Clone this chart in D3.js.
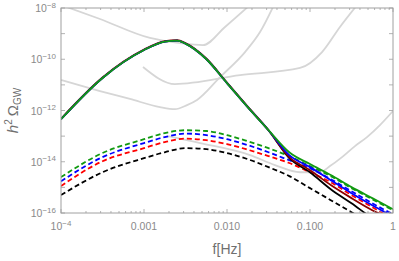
<!DOCTYPE html>
<html><head><meta charset="utf-8">
<script src="https://cdn.jsdelivr.net/npm/d3@7"></script>
<style>body{margin:0;background:#fff}svg{display:block}</style>
</head><body>
<script>
// ---- data (log10 f, log10 h^2 Omega_GW) ----
const solidF = [-4, -3.5, -3, -2.75, -2.6, -2.5, -2.25, -2, -1.75, -1.5, -1.25, -1, -0.75, -0.5, -0.25, 0];
const solidGreen = [-12.34, -10.73, -9.64, -9.31, -9.27, -9.39, -9.99, -10.93, -11.87, -12.77, -13.63, -14.09, -14.52, -14.99, -15.42, -15.85];
const solidBlue  = [-12.34, -10.73, -9.64, -9.31, -9.27, -9.39, -9.99, -10.93, -11.87, -12.77, -13.74, -14.21, -14.72, -15.23, -15.70, -16.13];
const solidRed   = [-12.32, -10.71, -9.62, -9.29, -9.25, -9.37, -9.97, -10.91, -11.85, -12.77, -13.82, -14.33, -14.91, -15.42, -15.89, -16.24];
const solidBlack = [-12.34, -10.73, -9.64, -9.31, -9.27, -9.39, -9.99, -10.93, -11.87, -12.77, -13.86, -14.41, -15.07, -15.62, -16.20, -16.67];

const dashF = [-4, -3.5, -3, -2.75, -2.5, -2.25, -2, -1.75, -1.5, -1.25, -1, -0.75, -0.5, -0.25, 0];
const dashGreen = [-14.60, -13.66, -13.12, -12.88, -12.77, -12.80, -12.96, -13.20, -13.47, -13.78, -14.17, -14.56, -15.03, -15.46, -15.89];
const dashBlue  = [-14.76, -13.82, -13.27, -13.04, -12.90, -12.96, -13.12, -13.35, -13.63, -13.94, -14.25, -14.68, -15.15, -15.62, -16.05];
const dashRed   = [-14.95, -13.98, -13.47, -13.23, -13.10, -13.16, -13.31, -13.53, -13.78, -14.05, -14.41, -14.80, -15.30, -15.77, -16.24];
const dashBlack = [-15.30, -14.41, -13.86, -13.63, -13.47, -13.51, -13.66, -13.90, -14.21, -14.56, -15.03, -15.50, -15.97, -16.44, -16.91];

// gray sensitivity curves
const sensA_F = [-4, -3.53, -2.928, -2.566, -2.289, -2.024, -1.723];
const sensA_O = [-7.88, -8.43, -9.17, -9.37, -9.45, -8.74, -7.88];
const sensB_F = [-4, -3.53, -3.169, -2.807, -2.627, -2.482, -2.361, -2.084, -1.783, -1.602, -1.422];
const sensB_O = [-10.81, -11.24, -11.55, -11.87, -11.95, -11.79, -11.59, -10.70, -9.72, -8.94, -7.80];
const sensC_F = [-3.012, -2.627, -1.843, -1.120, -0.855, -0.639, -0.422];
const sensC_O = [-10.30, -10.97, -10.62, -10.34, -9.72, -8.74, -7.84];
const sensD_F = [-2.711, -2.325, -1.723, -1.422, -1.120, -0.880, -0.759, -0.614, -0.458, -0.313, -0.157, 0];
const sensD_O = [-13.00, -13.27, -13.74, -14.13, -14.41, -14.41, -14.17, -13.82, -13.39, -13.04, -12.57, -12.02];

const xTickVals = [1e-4, 1e-3, 1e-2, 1e-1, 1];
const xTickLabels = ["10^-4", "0.001", "0.010", "0.100", "1"];
const yTickVals = [1e-8, 1e-10, 1e-12, 1e-14, 1e-16];
const yTickLabels = ["10^-8", "10^-10", "10^-12", "10^-14", "10^-16"];

// ---- drawing ----
const W = 399, H = 261;
const m = {l: 61, r: 6, t: 8, b: 48};
const svg = d3.select("body").append("svg").attr("width", W).attr("height", H);
const x = d3.scaleLog().domain([1e-4, 1]).range([m.l, W - m.r]);
const y = d3.scaleLog().domain([1e-16, 1e-8]).range([H - m.b, m.t]);

svg.append("defs").append("clipPath").attr("id", "clip")
  .append("rect").attr("x", m.l).attr("y", m.t).attr("width", W - m.r - m.l).attr("height", H - m.b - m.t);

const line = d3.line().x(d => x(Math.pow(10, d[0]))).y(d => y(Math.pow(10, d[1]))).curve(d3.curveMonotoneX);
const zip = (a, b) => a.map((v, i) => [v, b[i]]);

const g = svg.append("g").attr("clip-path", "url(#clip)");
const gray = "#d6d6d6";
[[sensA_F, sensA_O], [sensB_F, sensB_O], [sensC_F, sensC_O], [sensD_F, sensD_O]].forEach(([f, o]) => {
  g.append("path").attr("d", line(zip(f, o))).attr("fill", "none").attr("stroke", gray).attr("stroke-width", 1.8);
});

const cols = {black: "#000000", red: "#ff0000", blue: "#0000ff", green: "#119a11"};
[[dashBlack, cols.black], [dashRed, cols.red], [dashBlue, cols.blue], [dashGreen, cols.green]].forEach(([o, c]) => {
  g.append("path").attr("d", line(zip(dashF, o))).attr("fill", "none").attr("stroke", c)
    .attr("stroke-width", 1.8).attr("stroke-dasharray", "5,3");
});
[[solidBlack, cols.black], [solidRed, "#8b0000"], [solidBlue, cols.blue], [solidGreen, cols.green]].forEach(([o, c]) => {
  g.append("path").attr("d", line(zip(solidF, o))).attr("fill", "none").attr("stroke", c)
    .attr("stroke-width", 1.8);
});

// frame
const axCol = "#a0a0a0";
svg.append("rect").attr("x", m.l).attr("y", m.t).attr("width", W - m.r - m.l).attr("height", H - m.b - m.t)
  .attr("fill", "none").attr("stroke", axCol).attr("stroke-width", 1);

// ticks
const tg = svg.append("g").attr("stroke", axCol).attr("stroke-width", 0.8);
const xMinor = [];
for (let e = -4; e < 0; e++) for (let k = 1; k < 10; k++) xMinor.push([k * Math.pow(10, e), k === 1]);
xMinor.push([1, true]);
xMinor.forEach(([v, major]) => {
  const len = major ? 4 : 2;
  tg.append("line").attr("x1", x(v)).attr("x2", x(v)).attr("y1", H - m.b).attr("y2", H - m.b - len);
  tg.append("line").attr("x1", x(v)).attr("x2", x(v)).attr("y1", m.t).attr("y2", m.t + len);
});
for (let e = -16; e <= -8; e++) {
  const v = Math.pow(10, e);
  tg.append("line").attr("x1", m.l).attr("x2", m.l + 4).attr("y1", y(v)).attr("y2", y(v));
  tg.append("line").attr("x1", W - m.r).attr("x2", W - m.r - 4).attr("y1", y(v)).attr("y2", y(v));
}

const txtCol = "#8a8a8a";
const font = "'Liberation Sans', Arial, sans-serif";
function powLabel(sel, s) {
  const [base, exp] = s.split("^");
  sel.append("tspan").text(base);
  if (exp) sel.append("tspan").attr("dy", -4.5).attr("font-size", 8).text(exp.replace("-", "\u2212"));
}
xTickVals.forEach((v, i) => {
  const t = svg.append("text").attr("x", x(v)).attr("y", H - m.b + 17).attr("text-anchor", "middle")
    .attr("font-family", font).attr("font-size", 10.5).attr("fill", txtCol);
  powLabel(t, xTickLabels[i]);
});
yTickVals.forEach((v, i) => {
  const t = svg.append("text").attr("x", m.l - 5).attr("y", y(v) + 4).attr("text-anchor", "end")
    .attr("font-family", font).attr("font-size", 10.5).attr("fill", txtCol);
  powLabel(t, yTickLabels[i]);
});

svg.append("text").attr("x", (m.l + W - m.r) / 2).attr("y", 254).attr("text-anchor", "middle")
  .attr("font-family", font).attr("font-size", 14).attr("fill", "#707070").text("f[Hz]");

const yl = svg.append("text").attr("transform", `translate(18,${(m.t + H - m.b) / 2}) rotate(-90)`)
  .attr("text-anchor", "middle").attr("font-family", font).attr("font-size", 15).attr("fill", "#707070");
yl.append("tspan").attr("font-style", "italic").text("h");
yl.append("tspan").attr("dy", -6).attr("font-size", 10).text("2");
yl.append("tspan").attr("dy", 6).text("\u2009\u03A9");
yl.append("tspan").attr("dy", 3).attr("font-size", 10).text("GW");
</script>
</body></html>
